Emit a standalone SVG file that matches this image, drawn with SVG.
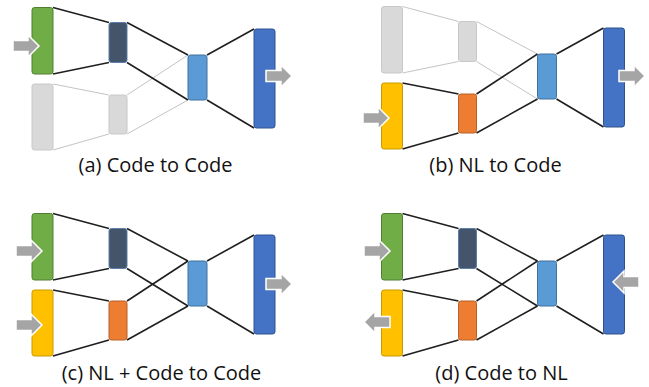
<svg xmlns="http://www.w3.org/2000/svg" xmlns:xlink="http://www.w3.org/1999/xlink" width="649" height="387" viewBox="0 0 649 387">
<style>
.n{stroke-width:1}
.green{fill:#70AD47;stroke:#507E32}
.navy{fill:#44546A;stroke:#5A7FA8}
.lblue{fill:#5B9BD5;stroke:#41719C}
.blue{fill:#4472C4;stroke:#2F528F}
.yellow{fill:#FFC000;stroke:#C99A00}
.orange{fill:#ED7D31;stroke:#B8612A}
.gray{fill:#D9D9D9;stroke:#C8C8C8}
.k{stroke:#1f1f1f;stroke-width:1.6;fill:none}
.g{stroke:#C4C4C4;stroke-width:1;fill:none}
.arr{fill:#A5A5A5;stroke:#FFFFFF;stroke-width:1.5;stroke-linejoin:miter}
.lab{font-family:"Open Sans","Liberation Sans",sans-serif;font-size:20px;fill:#111;text-anchor:middle}
</style>
<defs>
<path id="arrow" class="arr" d="M0,-5.5 H15 V-11 L26,0 L15,11 V5.5 H0 Z"/>
</defs>

<!-- Panel a -->
<g id="panel-a">
<g id="a-connectors">
<line class="g" x1="53" y1="84" x2="109" y2="95"/>
<line class="g" x1="53" y1="150" x2="109" y2="134"/>
<line class="g" x1="127" y1="95" x2="188" y2="55"/>
<line class="g" x1="127" y1="134" x2="188" y2="100"/>
<line class="k" x1="53" y1="7.5" x2="109" y2="22.5"/>
<line class="k" x1="53" y1="74" x2="109" y2="62.5"/>
<line class="k" x1="127" y1="22.5" x2="188" y2="55"/>
<line class="k" x1="127" y1="62.5" x2="188" y2="100"/>
<line class="k" x1="207" y1="55" x2="254" y2="29"/>
<line class="k" x1="207" y1="100" x2="254" y2="128"/>
</g>
<g id="a-code-in"><rect class="n green" x="32" y="7.5" width="21" height="66.5" rx="2.5"/></g>
<g id="a-code-enc"><rect class="n navy" x="109" y="22.5" width="18" height="40" rx="2.5"/></g>
<g id="a-nl-in"><rect class="n gray" x="32" y="84" width="21" height="66" rx="2.5"/></g>
<g id="a-nl-enc"><rect class="n gray" x="109" y="95" width="18" height="39" rx="2.5"/></g>
<g id="a-shared"><rect class="n lblue" x="188" y="55" width="19" height="45" rx="2.5"/></g>
<g id="a-dec"><rect class="n blue" x="254" y="29" width="21" height="99" rx="2.5"/></g>
<g id="a-arrows">
<use xlink:href="#arrow" transform="translate(13,46)"/>
<use xlink:href="#arrow" transform="translate(266,76)"/>
</g>
<text class="lab" x="155.5" y="171.5">(a) Code to Code</text>
</g>

<!-- Panel b -->
<g id="panel-b">
<g id="b-connectors" transform="translate(349.5,-1)">
<line class="g" x1="53" y1="7.5" x2="109" y2="22.5"/>
<line class="g" x1="53" y1="74" x2="109" y2="62.5"/>
<line class="g" x1="127" y1="22.5" x2="188" y2="55"/>
<line class="g" x1="127" y1="62.5" x2="188" y2="100"/>
<line class="k" x1="53" y1="84" x2="109" y2="95"/>
<line class="k" x1="53" y1="150" x2="109" y2="134"/>
<line class="k" x1="127" y1="95" x2="188" y2="55"/>
<line class="k" x1="127" y1="134" x2="188" y2="100"/>
<line class="k" x1="207" y1="55" x2="254" y2="29"/>
<line class="k" x1="207" y1="100" x2="254" y2="128"/>
</g>
<g transform="translate(349.5,-1)">
<g id="b-code-in"><rect class="n gray" x="32" y="7.5" width="21" height="66.5" rx="2.5"/></g>
<g id="b-code-enc"><rect class="n gray" x="109" y="22.5" width="18" height="40" rx="2.5"/></g>
<g id="b-nl-in"><rect class="n yellow" x="32" y="84" width="21" height="66" rx="2.5"/></g>
<g id="b-nl-enc"><rect class="n orange" x="109" y="95" width="18" height="39" rx="2.5"/></g>
<g id="b-shared"><rect class="n lblue" x="188" y="55" width="19" height="45" rx="2.5"/></g>
<g id="b-dec"><rect class="n blue" x="254" y="29" width="21" height="99" rx="2.5"/></g>
</g>
<g id="b-arrows">
<use xlink:href="#arrow" transform="translate(363,118)"/>
<use xlink:href="#arrow" transform="translate(619,76)"/>
</g>
<text class="lab" x="495.5" y="171.5">(b) NL to Code</text>
</g>

<!-- Panel c -->
<g id="panel-c">
<g id="c-connectors" transform="translate(0,206)">
<line class="k" x1="53" y1="7.5" x2="109" y2="22.5"/>
<line class="k" x1="53" y1="74" x2="109" y2="62.5"/>
<line class="k" x1="127" y1="22.5" x2="188" y2="55"/>
<line class="k" x1="127" y1="62.5" x2="188" y2="100"/>
<line class="k" x1="53" y1="84" x2="109" y2="95"/>
<line class="k" x1="53" y1="150" x2="109" y2="134"/>
<line class="k" x1="127" y1="95" x2="188" y2="55"/>
<line class="k" x1="127" y1="134" x2="188" y2="100"/>
<line class="k" x1="207" y1="55" x2="254" y2="29"/>
<line class="k" x1="207" y1="100" x2="254" y2="128"/>
</g>
<g transform="translate(0,206)">
<g id="c-code-in"><rect class="n green" x="32" y="7.5" width="21" height="66.5" rx="2.5"/></g>
<g id="c-code-enc"><rect class="n navy" x="109" y="22.5" width="18" height="40" rx="2.5"/></g>
<g id="c-nl-in"><rect class="n yellow" x="32" y="84" width="21" height="66" rx="2.5"/></g>
<g id="c-nl-enc"><rect class="n orange" x="109" y="95" width="18" height="39" rx="2.5"/></g>
<g id="c-shared"><rect class="n lblue" x="188" y="55" width="19" height="45" rx="2.5"/></g>
<g id="c-dec"><rect class="n blue" x="254" y="29" width="21" height="99" rx="2.5"/></g>
</g>
<g id="c-arrows">
<use xlink:href="#arrow" transform="translate(16,251)"/>
<use xlink:href="#arrow" transform="translate(16,325)"/>
<use xlink:href="#arrow" transform="translate(266,284)"/>
</g>
<text class="lab" x="161.5" y="380">(c) NL + Code to Code</text>
</g>

<!-- Panel d -->
<g id="panel-d">
<g id="d-connectors" transform="translate(349.5,206)">
<line class="k" x1="53" y1="7.5" x2="109" y2="22.5"/>
<line class="k" x1="53" y1="74" x2="109" y2="62.5"/>
<line class="k" x1="127" y1="22.5" x2="188" y2="55"/>
<line class="k" x1="127" y1="62.5" x2="188" y2="100"/>
<line class="k" x1="53" y1="84" x2="109" y2="95"/>
<line class="k" x1="53" y1="150" x2="109" y2="134"/>
<line class="k" x1="127" y1="95" x2="188" y2="55"/>
<line class="k" x1="127" y1="134" x2="188" y2="100"/>
<line class="k" x1="207" y1="55" x2="254" y2="29"/>
<line class="k" x1="207" y1="100" x2="254" y2="128"/>
</g>
<g transform="translate(349.5,206)">
<g id="d-code-in"><rect class="n green" x="32" y="7.5" width="21" height="66.5" rx="2.5"/></g>
<g id="d-code-enc"><rect class="n navy" x="109" y="22.5" width="18" height="40" rx="2.5"/></g>
<g id="d-nl-out"><rect class="n yellow" x="32" y="84" width="21" height="66" rx="2.5"/></g>
<g id="d-nl-enc"><rect class="n orange" x="109" y="95" width="18" height="39" rx="2.5"/></g>
<g id="d-shared"><rect class="n lblue" x="188" y="55" width="19" height="45" rx="2.5"/></g>
<g id="d-dec"><rect class="n blue" x="254" y="29" width="21" height="99" rx="2.5"/></g>
</g>
<g id="d-arrows">
<use xlink:href="#arrow" transform="translate(364,251)"/>
<use xlink:href="#arrow" transform="translate(390,322) scale(-1,1)"/>
<use xlink:href="#arrow" transform="translate(639,282) scale(-1,1)"/>
</g>
<text class="lab" x="501.5" y="380">(d) Code to NL</text>
</g>
</svg>
